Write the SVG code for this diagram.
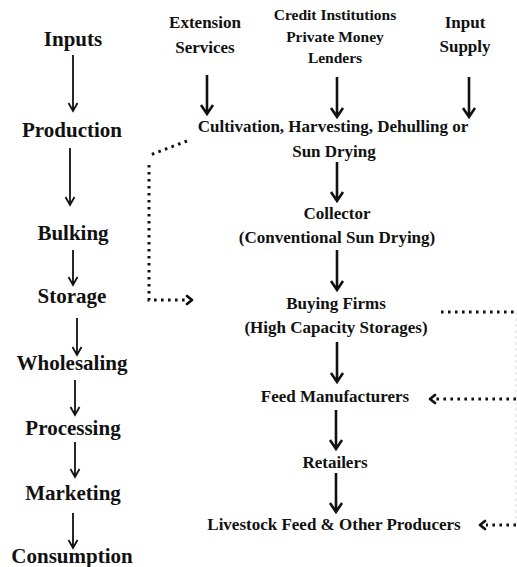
<svg xmlns="http://www.w3.org/2000/svg" width="517" height="567" viewBox="0 0 517 567">
<style>
text{font-family:"Liberation Serif","Times New Roman",serif;font-weight:bold;fill:#111;text-anchor:middle}
.l{font-size:21px}
.r{font-size:17px}
.s{font-size:15.5px}
.thin{stroke:#111;stroke-width:1.8;fill:none}
.thick{stroke:#111;stroke-width:2.6;fill:none}
.dot{stroke:#111;stroke-width:3;fill:none;stroke-dasharray:2.6 4.4}
.head{stroke:#111;stroke-width:2.8;fill:none;stroke-linecap:round;stroke-linejoin:round}
.faint{stroke:#ddd;stroke-width:1;stroke-dasharray:3 3;fill:none}
</style>
<rect width="517" height="567" fill="#fff"/>
<g id="left-chain">
<g id="n-inputs"><text class="l" x="73" y="46">Inputs</text></g>
<g id="n-production"><text class="l" x="72" y="137">Production</text></g>
<g id="n-bulking"><text class="l" x="73" y="240">Bulking</text></g>
<g id="n-storage"><text class="l" x="72" y="303">Storage</text></g>
<g id="n-wholesaling"><text class="l" x="72" y="370">Wholesaling</text></g>
<g id="n-processing"><text class="l" x="73" y="435">Processing</text></g>
<g id="n-marketing"><text class="l" x="73" y="500">Marketing</text></g>
<g id="n-consumption"><text class="l" x="72" y="563">Consumption</text></g>
</g>
<g id="n-extension"><text class="r" x="205" y="28">Extension</text><text class="r" x="205" y="53">Services</text></g>
<g id="n-credit"><text class="s" x="335" y="20">Credit Institutions</text><text class="s" x="335" y="42">Private Money</text><text class="s" x="335" y="63">Lenders</text></g>
<g id="n-input-supply"><text class="r" x="465" y="28">Input</text><text class="r" x="465" y="52">Supply</text></g>
<g id="n-cultivation"><text class="r" x="333" y="132">Cultivation, Harvesting, Dehulling or</text><text class="r" x="334" y="157">Sun Drying</text></g>
<g id="n-collector"><text class="r" x="337" y="219">Collector</text><text class="r" x="337" y="243">(Conventional Sun Drying)</text></g>
<g id="n-buying"><text class="r" x="336" y="309">Buying Firms</text><text class="r" x="336" y="333">(High Capacity Storages)</text></g>
<g id="n-feed"><text class="r" x="335" y="402">Feed Manufacturers</text></g>
<g id="n-retailers"><text class="r" x="335" y="468">Retailers</text></g>
<g id="n-livestock"><text class="r" x="334" y="530">Livestock Feed &amp; Other Producers</text></g>
<g id="connectors">
<path class="thin" d="M73 55V110M68.5 103l4.5 8 4.5-8"/>
<path class="thin" d="M70 148V204M65.5 197l4.5 8 4.5-8"/>
<path class="thin" d="M73 250V284M68.5 277l4.5 8 4.5-8"/>
<path class="thin" d="M77 318V354M72.5 347l4.5 8 4.5-8"/>
<path class="thin" d="M75 380V414M70.5 407l4.5 8 4.5-8"/>
<path class="thin" d="M75 442V476M70.5 469l4.5 8 4.5-8"/>
<path class="thin" d="M73 513V547M68.5 540l4.5 8 4.5-8"/>
<path class="thick" d="M207 75V113M201 105l6 9 6-9"/>
<path class="thick" d="M337 77V116M331 108l6 9 6-9"/>
<path class="thick" d="M469 77V116M463 108l6 9 6-9"/>
<path class="thick" d="M337 162V200M331 192l6 9 6-9"/>
<path class="thick" d="M337 250V289M331 281l6 9 6-9"/>
<path class="thick" d="M337 342V381M331 373l6 9 6-9"/>
<path class="thick" d="M336 410V448M330 440l6 9 6-9"/>
<path class="thick" d="M336 473V511M330 503l6 9 6-9"/>
<path class="dot" d="M187 141L150 155"/>
<path class="dot" d="M149 165V300H187"/>
<path class="head" d="M187 296l5 4-5 4"/>
<path class="dot" d="M441 312H517"/>
<path class="faint" d="M516 312V525"/>
<path class="dot" d="M516 399H436"/>
<path class="head" d="M435 395l-5 4 5 4"/>
<path class="dot" d="M516 525H486"/>
<path class="head" d="M485 521l-5 4 5 4"/>
</g>
</svg>
